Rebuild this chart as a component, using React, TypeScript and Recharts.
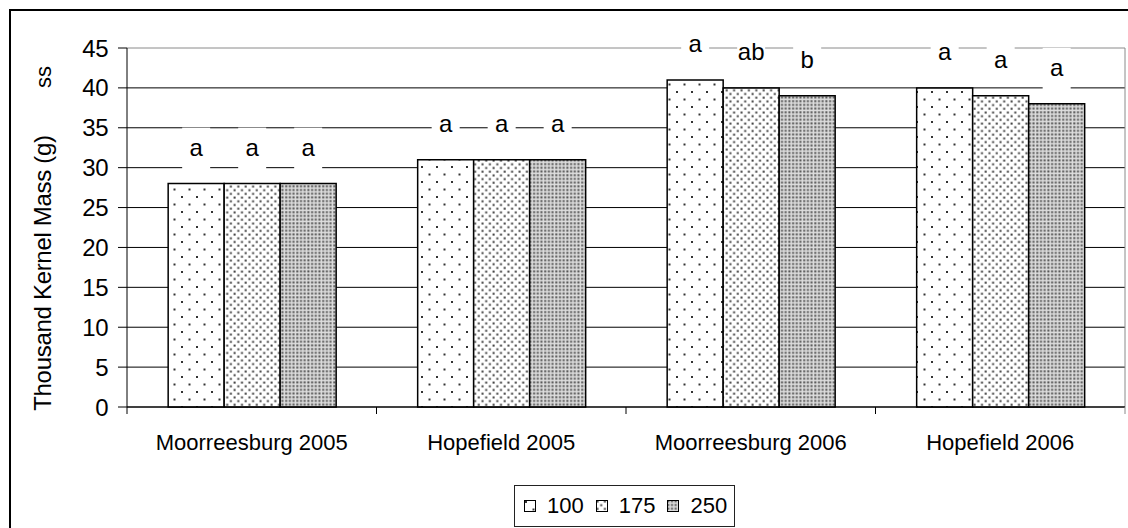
import React from "react";
import { BarChart, Bar, XAxis, YAxis, CartesianGrid, LabelList } from "recharts";

const CATEGORIES = ["Moorreesburg 2005", "Hopefield 2005", "Moorreesburg 2006", "Hopefield 2006"];
const SERIES = ["100", "175", "250"];
const VALUES_100 = [28, 31, 41, 40];
const VALUES_175 = [28, 31, 40, 39];
const VALUES_250 = [28, 31, 39, 38];
const LETTERS_100 = ["a", "a", "a", "a"];
const LETTERS_175 = ["a", "a", "ab", "a"];
const LETTERS_250 = ["a", "a", "b", "a"];
const Y_TICKS = [0, 5, 10, 15, 20, 25, 30, 35, 40, 45];

const PATTERNS = ["pat100", "pat175", "pat250"];
const FONT = "'Liberation Sans', Arial, sans-serif";

const data = CATEGORIES.map((name, i) => ({
  name,
  v100: VALUES_100[i],
  v175: VALUES_175[i],
  v250: VALUES_250[i],
  l100: LETTERS_100[i],
  l175: LETTERS_175[i],
  l250: LETTERS_250[i],
}));

// letter over each bar, on a white box that hides the gridlines behind it
const LetterLabel = (props: any) => {
  const { x, y, width, value } = props;
  const cx = x + width / 2;
  return (
    <g>
      <rect x={cx - 14} y={y - 56} width={28} height={44} fill="#fff" />
      <text x={cx} y={y - 36} textAnchor="middle" dominantBaseline="central" fontSize={24} fill="#000">
        {value}
      </text>
    </g>
  );
};

const GridLine = (p: any) => (
  <line key={p.key} x1={p.x1} y1={p.y1} x2={p.x2} y2={p.y2} stroke={p.y1 < 50 ? "#8a8a8a" : "#000"} strokeWidth={1} />
);

// category label plus the small tick marks at the category boundaries
const CategoryTick = (props: any) => {
  const { x, y, payload, index, visibleTicksCount } = props;
  const half = payload && payload.offset ? payload.offset : 998 / CATEGORIES.length / 2;
  const last = index === (visibleTicksCount ?? CATEGORIES.length) - 1;
  return (
    <g>
      <line x1={x - half} y1={y} x2={x - half} y2={y + 7} stroke="#000" />
      {last && <line x1={x + half} y1={y} x2={x + half} y2={y + 7} stroke="#8a8a8a" />}
      <text x={x} y={y + 27} dy="0.71em" textAnchor="middle" fontSize={22} fill="#000">
        {payload.value}
      </text>
    </g>
  );
};

const Legend = () => (
  <div
    style={{
      position: "absolute",
      left: 514,
      top: 485,
      width: 221,
      height: 42,
      boxSizing: "border-box",
      border: "1px solid #222",
      display: "flex",
      alignItems: "center",
      paddingLeft: 9,
      fontSize: 22,
    }}
  >
    {SERIES.map((s, i) => (
      <div key={s} style={{ display: "flex", alignItems: "center", marginRight: 12 }}>
        <svg width={12} height={12} style={{ marginRight: 11 }}>
          <rect x={0.5} y={0.5} width={11} height={11} fill={`url(#${PATTERNS[i]})`} stroke="#000" />
        </svg>
        <span>{s}</span>
      </div>
    ))}
  </div>
);

export default function App() {
  return (
    <div style={{ position: "fixed", left: 0, top: 0, width: 1128, height: 528, overflow: "hidden", background: "#fff", fontFamily: FONT }}>
      <div style={{ position: "absolute", left: 9, top: 9, width: 1200, height: 600, borderLeft: "2px solid #000", borderTop: "2px solid #000" }} />
      <div style={{ position: "absolute", left: 0, top: 0 }}>
        <BarChart
          width={1128}
          height={528}
          data={data}
          margin={{ top: 48, right: 3, left: 67, bottom: 91 }}
          barCategoryGap="16.5%"
          barGap={0}
        >
          <defs>
            <pattern id="pat100" width={15} height={15} patternUnits="userSpaceOnUse">
              <rect width={15} height={15} fill="#fff" />
              <rect x={1} y={1} width={2} height={2} fill="#333" />
              <rect x={8.5} y={8.5} width={2} height={2} fill="#333" />
            </pattern>
            <pattern id="pat175" width={7.4} height={7.4} patternUnits="userSpaceOnUse">
              <rect width={7.4} height={7.4} fill="#fff" />
              <rect x={0.5} y={0.5} width={2} height={2} fill="#444" />
              <rect x={4.2} y={4.2} width={2} height={2} fill="#444" />
            </pattern>
            <pattern id="pat250" width={3.7} height={3.7} patternUnits="userSpaceOnUse">
              <rect width={3.7} height={3.7} fill="#ddd" />
              <rect x={0.3} y={0.3} width={2} height={2} fill="#555" />
            </pattern>
          </defs>
          <CartesianGrid vertical={false} horizontal={GridLine} />
          <CartesianGrid
            horizontal={false}
            stroke="#8a8a8a"
            verticalCoordinatesGenerator={({ offset }: any) => [offset.left + offset.width]}
          />
          <XAxis
            dataKey="name"
            height={30}
            tickLine={false}
            axisLine={{ stroke: "#000" }}
            tickSize={0}
            tickMargin={0}
            interval={0}
            tick={CategoryTick}
          />
          <YAxis
            domain={[0, 45]}
            ticks={Y_TICKS}
            width={60}
            tickSize={9}
            tickMargin={10}
            axisLine={{ stroke: "#000" }}
            tickLine={{ stroke: "#000" }}
            tick={{ fontSize: 24, fill: "#000", letterSpacing: -0.5 }}
            label={{
              content: () => (
                <g>
                  <text transform="translate(42,273) rotate(-90)" textAnchor="middle" dominantBaseline="central" fontSize={24} letterSpacing={-0.3} fill="#000">
                    Thousand Kernel Mass (g)
                  </text>
                  <text transform="translate(43,77) rotate(-90)" textAnchor="middle" dominantBaseline="central" fontSize={22} fill="#000">
                    ss
                  </text>
                </g>
              ),
            }}
          />
          <Bar dataKey="v100" name={SERIES[0]} fill="url(#pat100)" stroke="#000" strokeWidth={1.5} isAnimationActive={false}>
            <LabelList dataKey="l100" content={LetterLabel} />
          </Bar>
          <Bar dataKey="v175" name={SERIES[1]} fill="url(#pat175)" stroke="#000" strokeWidth={1.5} isAnimationActive={false}>
            <LabelList dataKey="l175" content={LetterLabel} />
          </Bar>
          <Bar dataKey="v250" name={SERIES[2]} fill="url(#pat250)" stroke="#000" strokeWidth={1.5} isAnimationActive={false}>
            <LabelList dataKey="l250" content={LetterLabel} />
          </Bar>
        </BarChart>
      </div>
      <Legend />
    </div>
  );
}
